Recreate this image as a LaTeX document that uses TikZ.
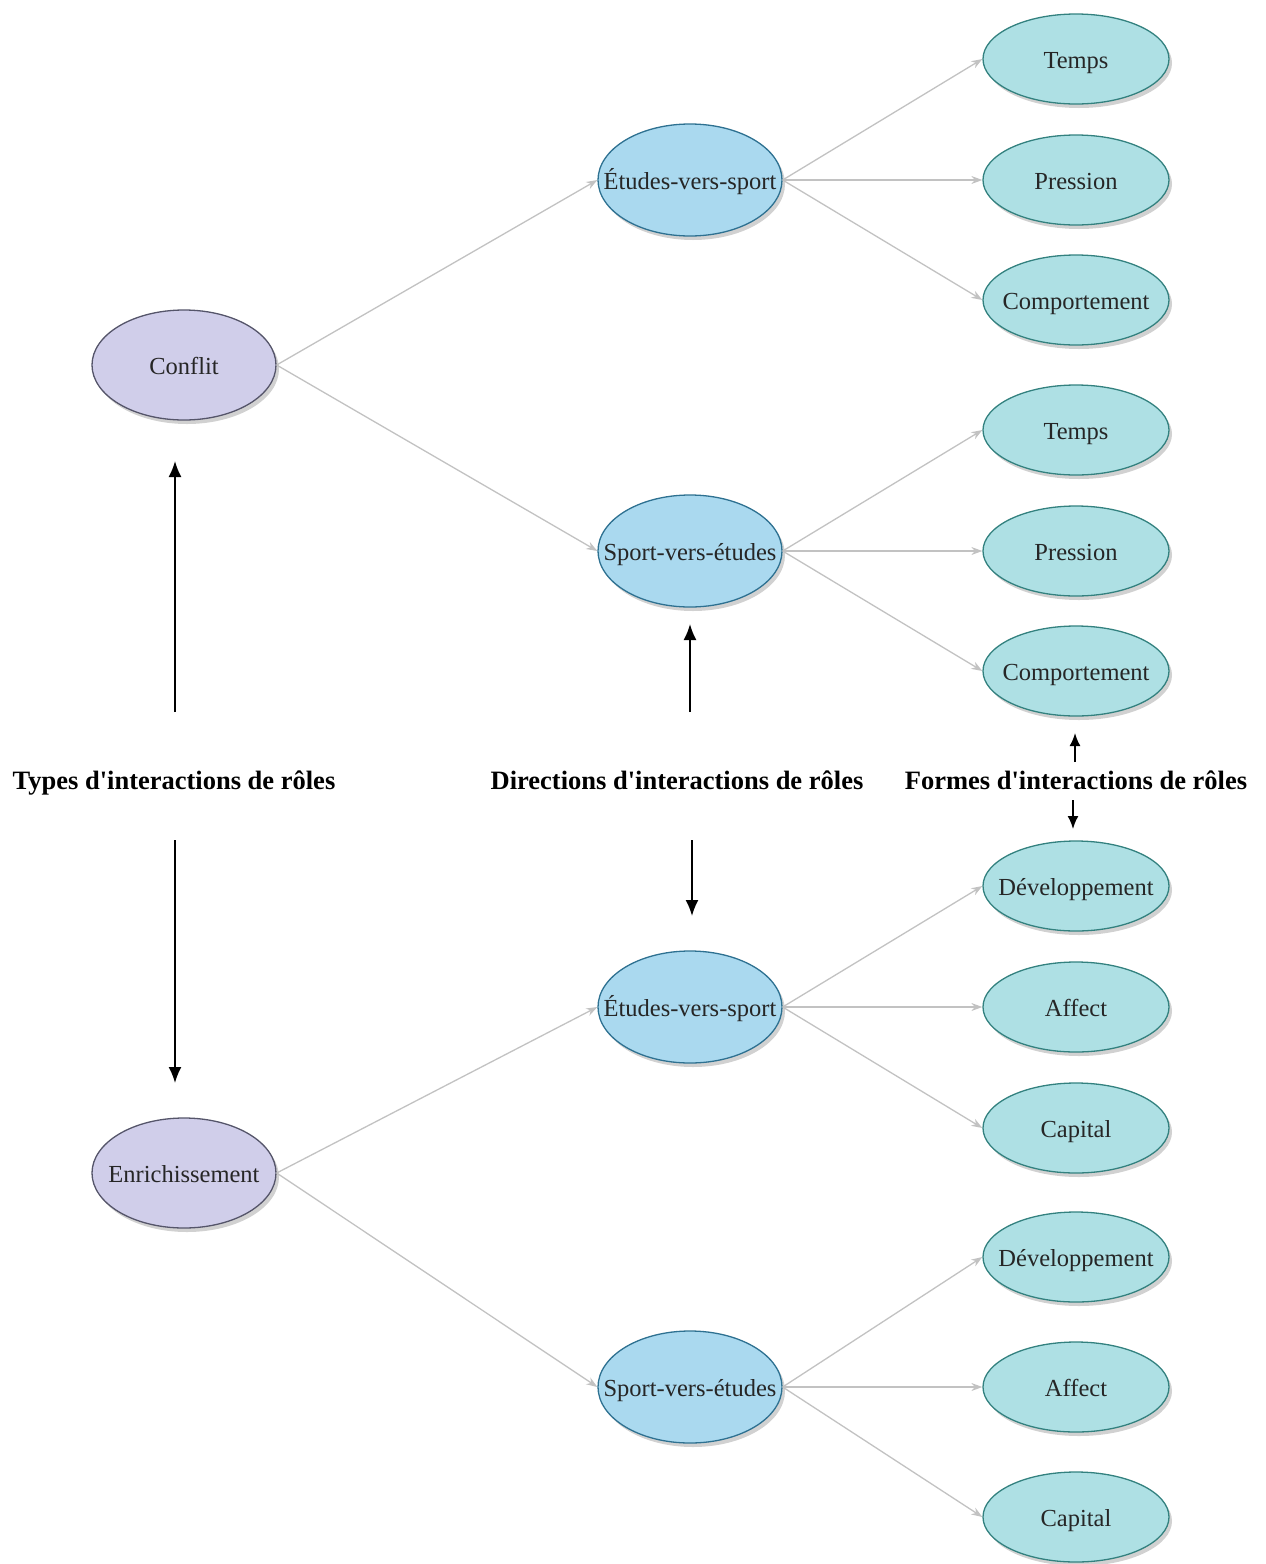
\documentclass[tikz,border=0pt]{standalone}
\usepackage{fontspec}
\setmainfont{Liberation Serif}
\usetikzlibrary{shapes.geometric,shadows,arrows.meta}
\definecolor{purplefill}{HTML}{D0CEEA}
\definecolor{purpledraw}{HTML}{55556A}
\definecolor{bluefill}{HTML}{AAD9EF}
\definecolor{bluedraw}{HTML}{2E7191}
\definecolor{tealfill}{HTML}{AEE0E4}
\definecolor{tealdraw}{HTML}{33817F}
\definecolor{edgegray}{HTML}{C2C2C2}
\tikzset{
  base/.style={ellipse, inner sep=0pt, line width=1.3pt, text=black!85,
    font=\fontsize{24.5}{28}\selectfont,
    drop shadow={shadow xshift=3pt, shadow yshift=-4pt, fill=black!40, opacity=0.45}},
  typenode/.style={base, fill=purplefill, draw=purpledraw, minimum width=184pt, minimum height=110pt},
  dirnode/.style={base, fill=bluefill, draw=bluedraw, minimum width=184pt, minimum height=112pt},
  formnode/.style={base, fill=tealfill, draw=tealdraw, minimum width=186pt, minimum height=90pt},
  link/.style={draw=edgegray, line width=1.3pt, -{Stealth[length=11pt,width=8pt]}},
  heading/.style={font=\bfseries\fontsize{26.5}{30}\selectfont, inner sep=0pt, anchor=base},
  bigarrow/.style={draw=black, line width=1.8pt, -{Latex[length=16pt,width=13pt]}},
  smallarrow/.style={draw=black, line width=1.8pt, -{Latex[length=13pt,width=11pt]}}
}
\newcommand{\nt}[1]{\makebox[0pt]{\smash{\raisebox{-9pt}{#1}}}}
\newcommand{\ap}{\textquotesingle}
\begin{document}
\begin{tikzpicture}[x=1pt,y=-1pt]
\useasboundingbox (0,0) rectangle (1266,1564);
% types
\node[typenode] (conflit) at (184,365) {\nt{Conflit}};
\node[typenode] (enrich) at (184,1173) {\nt{Enrichissement}};
% directions
\node[dirnode] (d1) at (690,180) {\nt{Études-vers-sport}};
\node[dirnode] (d2) at (690,551) {\nt{Sport-vers-études}};
\node[dirnode] (d3) at (690,1007) {\nt{Études-vers-sport}};
\node[dirnode] (d4) at (690,1387) {\nt{Sport-vers-études}};
% forms
\node[formnode] (f1) at (1076,59) {\nt{Temps}};
\node[formnode] (f2) at (1076,180) {\nt{Pression}};
\node[formnode] (f3) at (1076,300) {\nt{Comportement}};
\node[formnode] (f4) at (1076,430) {\nt{Temps}};
\node[formnode] (f5) at (1076,551) {\nt{Pression}};
\node[formnode] (f6) at (1076,671) {\nt{Comportement}};
\node[formnode] (f7) at (1076,886) {\nt{Développement}};
\node[formnode] (f8) at (1076,1007) {\nt{Affect}};
\node[formnode] (f9) at (1076,1128) {\nt{Capital}};
\node[formnode] (f10) at (1076,1257) {\nt{Développement}};
\node[formnode] (f11) at (1076,1387) {\nt{Affect}};
\node[formnode] (f12) at (1076,1517) {\nt{Capital}};
% links
\draw[link] (conflit.east) -- (d1.west);
\draw[link] (conflit.east) -- (d2.west);
\draw[link] (enrich.east) -- (d3.west);
\draw[link] (enrich.east) -- (d4.west);
\draw[link] (d1.east) -- (f1.west);
\draw[link] (d1.east) -- (f2.west);
\draw[link] (d1.east) -- (f3.west);
\draw[link] (d2.east) -- (f4.west);
\draw[link] (d2.east) -- (f5.west);
\draw[link] (d2.east) -- (f6.west);
\draw[link] (d3.east) -- (f7.west);
\draw[link] (d3.east) -- (f8.west);
\draw[link] (d3.east) -- (f9.west);
\draw[link] (d4.east) -- (f10.west);
\draw[link] (d4.east) -- (f11.west);
\draw[link] (d4.east) -- (f12.west);
% headings
\node[heading] (h1) at (174,789) {Types d\ap interactions de rôles};
\node[heading] (h2) at (677,789) {Directions d\ap interactions de rôles};
\node[heading] (h3) at (1076,789) {Formes d\ap interactions de rôles};
% black arrows
\coordinate (a1s) at (175,712); \coordinate (a1e) at (175,461);
\coordinate (a2s) at (175,840); \coordinate (a2e) at (175,1083);
\coordinate (a3s) at (690,712); \coordinate (a3e) at (690,624);
\coordinate (a4s) at (692,840); \coordinate (a4e) at (692,916);
\coordinate (a5s) at (1075,762); \coordinate (a5e) at (1075,733);
\coordinate (a6s) at (1073,800); \coordinate (a6e) at (1073,829);
\draw[bigarrow] (a1s) -- (a1e);
\draw[bigarrow] (a2s) -- (a2e);
\draw[bigarrow] (a3s) -- (a3e);
\draw[bigarrow] (a4s) -- (a4e);
\draw[smallarrow] (a5s) -- (a5e);
\draw[smallarrow] (a6s) -- (a6e);
\end{tikzpicture}
\end{document}
